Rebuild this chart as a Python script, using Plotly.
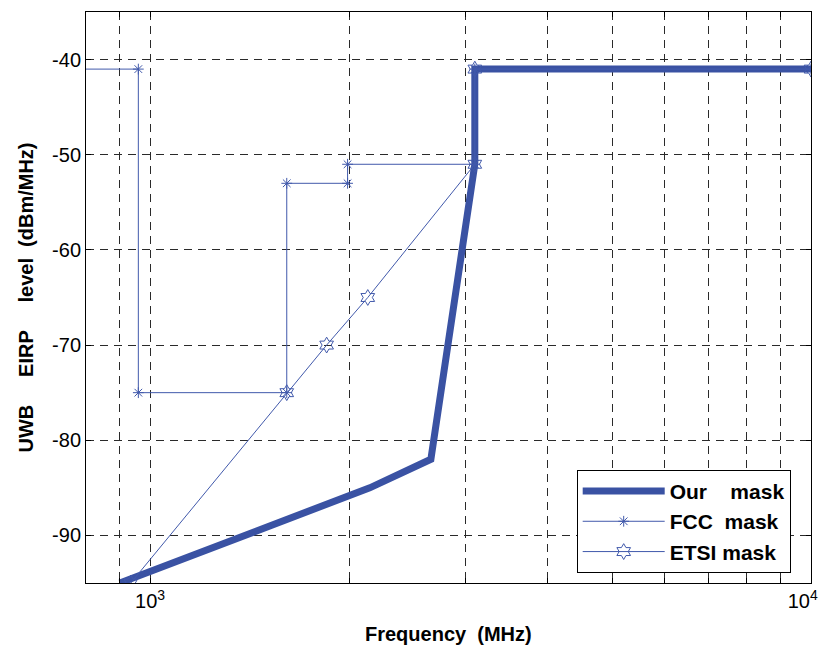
import numpy as np
import plotly.graph_objects as go

# ---- data ----
our_freq = [900, 2150, 2660, 3100, 3100, 10000]
our_level = [-95, -85, -82, -51, -41, -41]

fcc_freq = [700, 960, 960, 1610, 1610, 1990, 1990, 3100, 3100, 10000]
fcc_level = [-41, -41, -75, -75, -53, -53, -51, -51, -41, -41]

etsi_freq = [935, 1610, 1850, 2135, 3100, 3100, 10000]
etsi_level = [-95, -75, -70, -65, -51, -41, -41]

NB = "\u00a0"
x_major_vals = [1000, 10000]
x_major_text = ["10<sup>3</sup>", "10<sup>4</sup>" + NB * 3]
x_minor_vals = [900, 2000, 3000, 4000, 5000, 6000, 7000, 8000, 9000]
y_tick_vals = [-90, -80, -70, -60, -50, -40]
y_tick_text = ["-90", "-80", "-70", "-60", "-50", "-40"]

names = ["Our" + NB * 4 + "mask", "FCC" + NB * 2 + "mask", "ETSI" + NB + "mask"]

blue = "#3a52a3"
thin = "#4159ab"
FONT = "Liberation Sans, Arial"

# page body has an 8px margin: figure is placed at (8, 8)
OFF = 8
PL, PR, PT, PB = 86, 811, 11.7, 583.3   # plot area in window pixels
W, H = 828 - OFF, 650 - OFF
PH = PB - PT

fig = go.Figure()
fig.add_trace(go.Scatter(x=our_freq, y=our_level, mode="lines", name=names[0],
                         line=dict(color=blue, width=7)))
fig.add_trace(go.Scatter(x=fcc_freq, y=fcc_level, mode="lines+markers", name=names[1],
                         line=dict(color=thin, width=1),
                         marker=dict(symbol="asterisk-open", size=9, color=thin,
                                     line=dict(color=thin, width=1))))
fig.add_trace(go.Scatter(x=etsi_freq, y=etsi_level, mode="lines+markers", name=names[2],
                         line=dict(color=thin, width=1),
                         marker=dict(symbol="hexagram-open", size=12, color=thin,
                                     line=dict(color=thin, width=1))))

axis_font = dict(family=FONT, size=20, color="black")
grid = dict(showgrid=True, gridcolor="#2a2a2a", gridwidth=1, griddash="8px,6px")
fig.update_layout(
    width=W, height=H,
    margin=dict(l=PL - OFF, r=W - (PR - OFF), t=PT - OFF, b=H - (PB - OFF), autoexpand=False),
    paper_bgcolor="white", plot_bgcolor="white",
    font=dict(family=FONT, color="black"),
    xaxis=dict(type="log", range=[np.log10(800), 4], automargin=False,
               tickvals=x_major_vals, ticktext=x_major_text,
               ticklabeloverflow="allow",
               ticks="inside", ticklen=5, tickcolor="black",
               minor=dict(tickvals=x_minor_vals, ticks="inside", ticklen=5,
                          tickcolor="black", **grid),
               showline=True, linecolor="black", linewidth=1, mirror="allticks",
               zeroline=False, tickfont=axis_font, **grid),
    yaxis=dict(range=[-95, -35], automargin=False,
               tickvals=y_tick_vals, ticktext=y_tick_text,
               ticks="inside", ticklen=5, tickcolor="black",
               showline=True, linecolor="black", linewidth=1, mirror="allticks",
               zeroline=False, tickfont=axis_font, **grid),
    legend=dict(x=(576.7 - PL) / (PR - PL), y=1 - (470 - PT) / PH,
                xanchor="left", yanchor="top",
                bgcolor="white", bordercolor="black", borderwidth=1,
                font=dict(family=FONT, size=21, color="black", weight="bold"),
                itemwidth=82, tracegroupgap=0),
    showlegend=True,
    annotations=[
        dict(text="<b>Frequency" + NB * 2 + "(MHz)</b>", xref="paper", yref="paper",
             x=0.5, y=-(634 - PB) / PH, yanchor="middle", xanchor="center",
             showarrow=False, font=dict(family=FONT, size=20, color="black")),
        dict(text="<b>UWB" + NB * 5 + "EIRP" + NB * 5 + "level" + NB * 2 + "(dBm/MHz)</b>",
             xref="paper", yref="paper", textangle=-90,
             x=(25 - PL) / (PR - PL), y=0.5, xanchor="center", yanchor="middle",
             showarrow=False, font=dict(family=FONT, size=20, color="black")),
    ],
)

fig.write_html("out.html")
